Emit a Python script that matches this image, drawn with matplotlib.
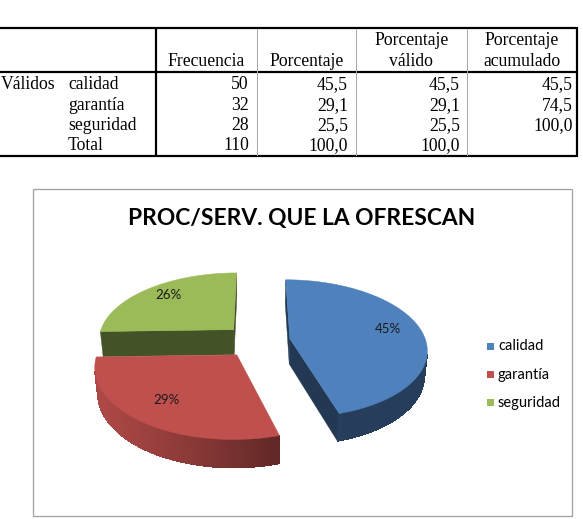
import numpy as np
import matplotlib
matplotlib.use('Agg')
import matplotlib.pyplot as plt
from matplotlib.patches import Polygon, Rectangle
from matplotlib.colors import to_rgb

# --- table data (SPSS frequency table) ---
categories = ['calidad', 'garantía', 'seguridad']
frecuencia = [50, 32, 28]
porcentaje = [45.5, 29.1, 25.5]
porc_valido = [45.5, 29.1, 25.5]
porc_acumulado = [45.5, 74.5, 100.0]
total_frec = 110
total_pct = 100.0
headers = ['Frecuencia', 'Porcentaje', 'Porcentaje\nválido', 'Porcentaje\nacumulado']

# --- chart data ---
chart_title = 'PROC/SERV. QUE LA OFRESCAN'
pie_labels = ['45%', '29%', '26%']
colors = ['#4F81BD', '#C0504D', '#9BBB59']


def fmt(x):
    return f'{x:.1f}'.replace('.', ',')


W, H = 583, 519
fig = plt.figure(figsize=(W / 100, H / 100), dpi=100)
ax = fig.add_axes([0, 0, 1, 1])
ax.set_xlim(0, W)
ax.set_ylim(H, 0)
ax.axis('off')
PX = 0.72  # points per pixel

# ---------------- table ----------------
serif = 'Liberation Serif'
fs_tab = 12.7
top, head, bottom = 27.7, 71.7, 155.5
col_edges = [155.7, 257, 355.7, 467, 577]
num_right = [249, 348, 460, 573]
row_base = [89, 110, 130, 150]

thick = dict(color='black', lw=2.2 * PX, solid_capstyle='butt')
for y in (top, head, bottom):
    ax.plot([-5, col_edges[-1] + 1], [y, y], **thick)
ax.plot([col_edges[0]] * 2, [top, bottom], **thick)
ax.plot([col_edges[-1]] * 2, [top, bottom], **thick)
for x in col_edges[1:-1]:
    ax.plot([x, x], [top + 1, bottom - 1], color='#a8a8a8', lw=1 * PX)

for i, hd in enumerate(headers):
    xc = (col_edges[i] + col_edges[i + 1]) / 2
    lines = hd.split('\n')
    for k, ln in enumerate(reversed(lines)):
        ax.text(xc, 65.7 - k * 20.5, ln, ha='center', va='baseline',
                family=serif, fontsize=fs_tab)

ax.text(0.5, row_base[0], 'Válidos', ha='left', va='baseline', family=serif, fontsize=fs_tab)
rows = []
for i, c in enumerate(categories):
    rows.append([c, str(frecuencia[i]), fmt(porcentaje[i]), fmt(porc_valido[i]), fmt(porc_acumulado[i])])
rows.append(['Total', str(total_frec), fmt(total_pct), fmt(total_pct), ''])
for r, row in enumerate(rows):
    ax.text(68, row_base[r], row[0], ha='left', va='baseline', family=serif, fontsize=fs_tab)
    for j, val in enumerate(row[1:]):
        ax.text(num_right[j], row_base[r], val, ha='right', va='baseline', family=serif, fontsize=fs_tab)

# ---------------- chart box ----------------
ax.add_patch(Rectangle((33, 189), 539, 327, fill=False, ec='#a3a3a3', lw=1.3 * PX))
ax.text(302, 218, chart_title, ha='center', va='center', family='Lato',
        fontweight='bold', fontsize=16.4, color='black')

# ---------------- 3D exploded pie ----------------
cx, cy, S = 257, 341, 136
tilt = np.radians(30)
D = 6.0
h = 0.22
expl = 0.245
cam = np.array([0, -D * np.cos(tilt), D * np.sin(tilt)])
light = np.array([-0.9, -0.3, 0.0])
light = light / np.linalg.norm(light)


def proj(u, v, z):
    Y = v * np.sin(tilt) + z * np.cos(tilt)
    Wd = v * np.cos(tilt) - z * np.sin(tilt)
    p = D / (D + Wd)
    return cx + S * u * p, cy - S * Y * p


def shade(c, f):
    return tuple(np.clip(np.array(to_rgb(c)) * f, 0, 1))


def visible(n, P):
    return np.dot(n, cam - P) > 0


frac = np.array(frecuencia) / sum(frecuencia)
bounds = np.concatenate([[0], np.cumsum(frac)]) * 360

slices = []
for i in range(len(frac)):
    a0, a1 = bounds[i], bounds[i + 1]
    m = np.radians((a0 + a1) / 2)
    ou, ov = expl * np.sin(m), expl * np.cos(m)
    slices.append((ov, i, a0, a1, ou, m))
slices.sort(key=lambda s: -s[0])

z = 1
for ov, i, a0, a1, ou, m in slices:
    col = colors[i]
    th = np.radians(np.linspace(a0, a1, max(int(a1 - a0), 2) + 1))
    # radial faces
    for ang, sgn in ((np.radians(a0), -1), (np.radians(a1), 1)):
        n = np.array([sgn * np.cos(ang), -sgn * np.sin(ang), 0])
        P = np.array([ou + 0.5 * np.sin(ang), ov + 0.5 * np.cos(ang), -h / 2])
        if visible(n, P):
            pts = [proj(ou, ov, 0), proj(ou + np.sin(ang), ov + np.cos(ang), 0),
                   proj(ou + np.sin(ang), ov + np.cos(ang), -h), proj(ou, ov, -h)]
            ax.add_patch(Polygon(pts, closed=True, fc=shade(col, 0.44), ec=shade(col, 0.44),
                                 lw=0.3, zorder=z))
    # outer wall: antialiased outline underneath, then shaded strips without seams
    vis = []
    for j in range(len(th) - 1):
        tm = (th[j] + th[j + 1]) / 2
        n = np.array([np.sin(tm), np.cos(tm), 0])
        P = np.array([ou + np.sin(tm), ov + np.cos(tm), -h / 2])
        if visible(n, P):
            vis.append(j)
    if vis:
        tv = th[vis[0]:vis[-1] + 2]
        upper = [proj(ou + np.sin(t), ov + np.cos(t), 0) for t in tv]
        lower = [proj(ou + np.sin(t), ov + np.cos(t), -h) for t in tv[::-1]]
        tm = tv.mean()
        f = 0.48 + 0.42 * max(0, np.dot([np.sin(tm), np.cos(tm), 0], light))
        ax.add_patch(Polygon(upper + lower, closed=True, fc=shade(col, f), ec='none', zorder=z))
        for j in vis:
            tm = (th[j] + th[j + 1]) / 2
            f = 0.48 + 0.42 * max(0, np.dot([np.sin(tm), np.cos(tm), 0], light))
            pts = [proj(ou + np.sin(th[j]), ov + np.cos(th[j]), 0),
                   proj(ou + np.sin(th[j + 1]), ov + np.cos(th[j + 1]), 0),
                   proj(ou + np.sin(th[j + 1]), ov + np.cos(th[j + 1]), -h + 0.004),
                   proj(ou + np.sin(th[j]), ov + np.cos(th[j]), -h + 0.004)]
            ax.add_patch(Polygon(pts, closed=True, fc=shade(col, f), ec=shade(col, f),
                                 lw=0.5, antialiased=False, zorder=z))
    # top face
    pts = [proj(ou, ov, 0)] + [proj(ou + np.sin(t), ov + np.cos(t), 0) for t in th]
    ax.add_patch(Polygon(pts, closed=True, fc=col, ec=col, lw=0.3, zorder=z + 1))
    lx, ly = proj(ou + 0.75 * np.sin(m), ov + 0.75 * np.cos(m), 0)
    ax.text(lx, ly - 3, pie_labels[i], ha='center', va='center', family='Lato',
            fontsize=9.6, color='#1a1a1a', zorder=z + 2)
    z += 3

# ---------------- legend ----------------
for i, c in enumerate(categories):
    yc = 346.5 + i * 28
    ax.add_patch(Rectangle((487, yc - 3.5), 7, 7, fc=colors[i], ec='none'))
    ax.text(498, yc + 4, c, ha='left', va='baseline', family='Lato', fontsize=10.5, color='black')

fig.savefig('out.png', dpi=100)
